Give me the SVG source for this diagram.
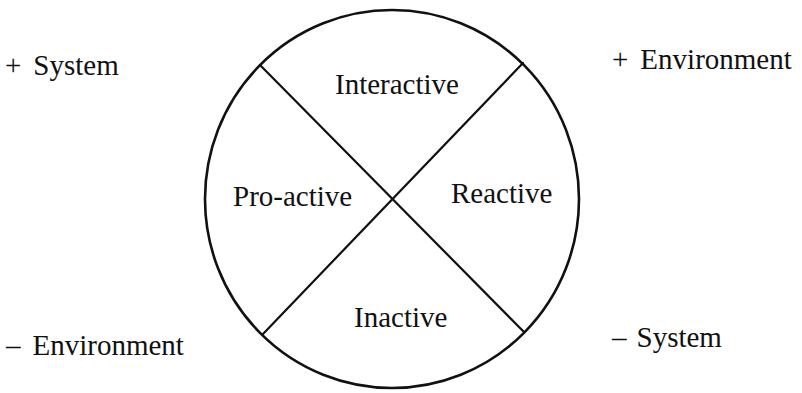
<svg xmlns="http://www.w3.org/2000/svg" width="802" height="393" viewBox="0 0 802 393">
  <style>
    .lbl { font-family: "Liberation Serif", "Times New Roman", serif; font-size: 29px; fill: #111; }
    .ring { fill: none; stroke: #111; stroke-width: 2.6; }
    .div { stroke: #111; stroke-width: 2.2; stroke-linecap: round; }
  </style>
  <rect width="802" height="393" fill="#fff"/>

  <!-- outer circle -->
  <g id="circle">
    <ellipse class="ring" cx="392" cy="199" rx="187" ry="189"/>
  </g>

  <!-- the two diagonals splitting the circle into quadrants -->
  <g id="connectors">
    <line class="div" x1="260" y1="65" x2="524" y2="332"/>
    <line class="div" x1="523" y1="63" x2="263" y2="334"/>
  </g>

  <!-- quadrant labels -->
  <g id="interactive"><text class="lbl" x="335" y="94">Interactive</text></g>
  <g id="proactive"><text class="lbl" x="233" y="206">Pro-active</text></g>
  <g id="reactive"><text class="lbl" x="451" y="203">Reactive</text></g>
  <g id="inactive"><text class="lbl" x="354" y="327">Inactive</text></g>

  <!-- corner labels -->
  <g id="plus-system"><text class="lbl" x="5" y="75">+<tspan dx="12">System</tspan></text></g>
  <g id="plus-environment"><text class="lbl" x="612" y="69">+<tspan dx="12">Environment</tspan></text></g>
  <g id="minus-environment"><text class="lbl" x="6" y="355">–<tspan dx="12">Environment</tspan></text></g>
  <g id="minus-system"><text class="lbl" x="612" y="347">–<tspan dx="10">System</tspan></text></g>
</svg>
